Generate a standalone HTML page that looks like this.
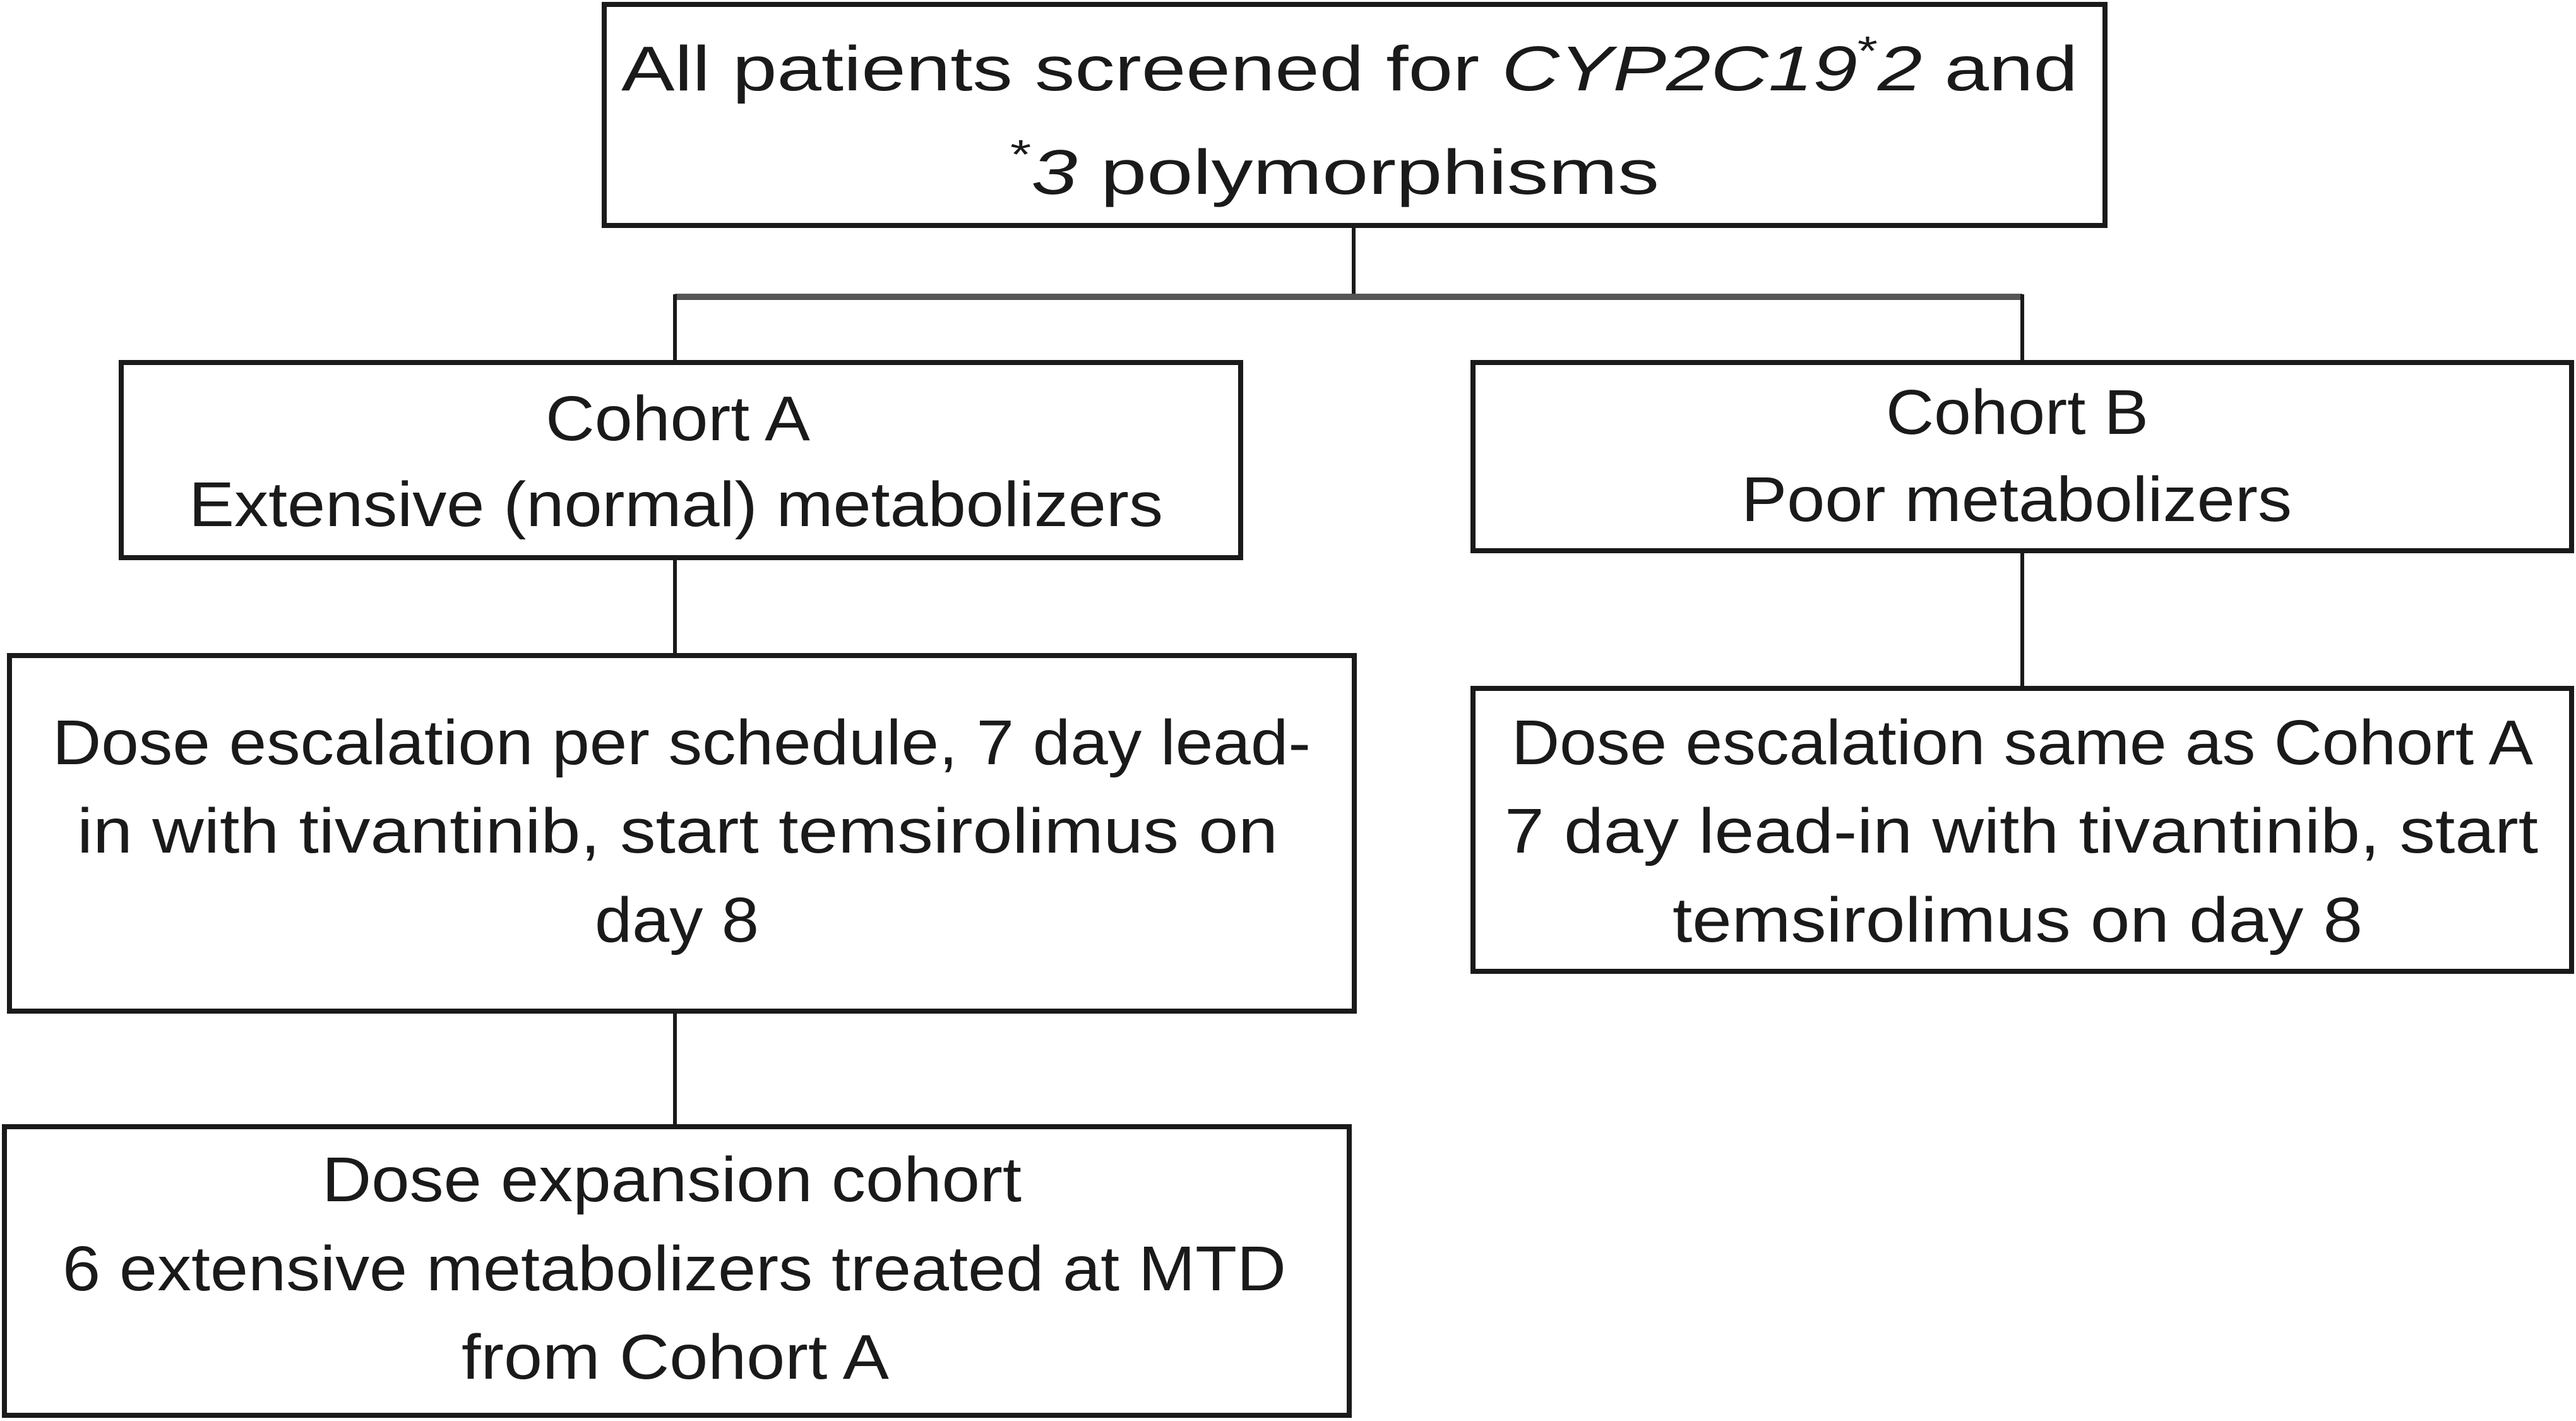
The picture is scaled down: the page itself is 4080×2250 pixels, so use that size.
<!DOCTYPE html>
<html><head><meta charset="utf-8"><style>
html,body{margin:0;padding:0;background:#fff;}
svg{display:block;}
text{font-family:"Liberation Sans",sans-serif;font-size:100px;fill:#1a1a1a;}
</style></head><body>
<svg width="4080" height="2250" viewBox="0 0 4080 2250">
<g fill="none" stroke="#1a1a1a" stroke-width="8">
<rect x="957" y="7" width="2377" height="350"/>
<rect x="192" y="574" width="1773" height="309"/>
<rect x="2333" y="574" width="1740" height="298"/>
<rect x="15" y="1038" width="2130" height="563"/>
<rect x="2333" y="1090" width="1740" height="448"/>
<rect x="7" y="1784" width="2130" height="457"/>
</g>
<g stroke="#1a1a1a" stroke-width="6">
<line x1="2144" y1="357" x2="2144" y2="470"/>
<line x1="1069" y1="470" x2="3203" y2="470" stroke="#555" stroke-width="10"/>
<line x1="1069" y1="466" x2="1069" y2="574"/>
<line x1="3203" y1="466" x2="3203" y2="574"/>
<line x1="1069" y1="883" x2="1069" y2="1038"/>
<line x1="3203" y1="872" x2="3203" y2="1090"/>
<line x1="1069" y1="1601" x2="1069" y2="1784"/>
</g>
<text x="984" y="143" textLength="2307" lengthAdjust="spacingAndGlyphs">All patients screened for <tspan font-style="italic">CYP2C19</tspan><tspan dy="-40" font-size="65">*</tspan><tspan dy="40" font-style="italic">2</tspan>  and</text>
<text x="1600" y="307" textLength="1028" lengthAdjust="spacingAndGlyphs"><tspan dy="-40" font-size="65">*</tspan><tspan dy="40" font-style="italic">3</tspan> polymorphisms</text>
<text x="864" y="697" textLength="419" lengthAdjust="spacingAndGlyphs">Cohort A</text>
<text x="299" y="833" textLength="1543" lengthAdjust="spacingAndGlyphs">Extensive (normal) metabolizers</text>
<text x="2987" y="687" textLength="416" lengthAdjust="spacingAndGlyphs">Cohort B</text>
<text x="2758" y="825" textLength="872" lengthAdjust="spacingAndGlyphs">Poor metabolizers</text>
<text x="83" y="1210" textLength="1993" lengthAdjust="spacingAndGlyphs">Dose escalation per schedule, 7 day lead-</text>
<text x="122" y="1350" textLength="1902" lengthAdjust="spacingAndGlyphs">in with tivantinib, start temsirolimus on</text>
<text x="942" y="1491" textLength="260" lengthAdjust="spacingAndGlyphs">day 8</text>
<text x="2394" y="1210" textLength="1618" lengthAdjust="spacingAndGlyphs">Dose escalation same as Cohort A</text>
<text x="2383" y="1350" textLength="1637" lengthAdjust="spacingAndGlyphs">7 day lead-in with tivantinib, start</text>
<text x="2649" y="1491" textLength="1093" lengthAdjust="spacingAndGlyphs">temsirolimus on  day 8</text>
<text x="510" y="1902" textLength="1108" lengthAdjust="spacingAndGlyphs">Dose expansion cohort</text>
<text x="99" y="2043" textLength="1938" lengthAdjust="spacingAndGlyphs">6 extensive metabolizers treated at MTD</text>
<text x="731" y="2183" textLength="677" lengthAdjust="spacingAndGlyphs">from Cohort A</text>
</svg>
</body></html>
